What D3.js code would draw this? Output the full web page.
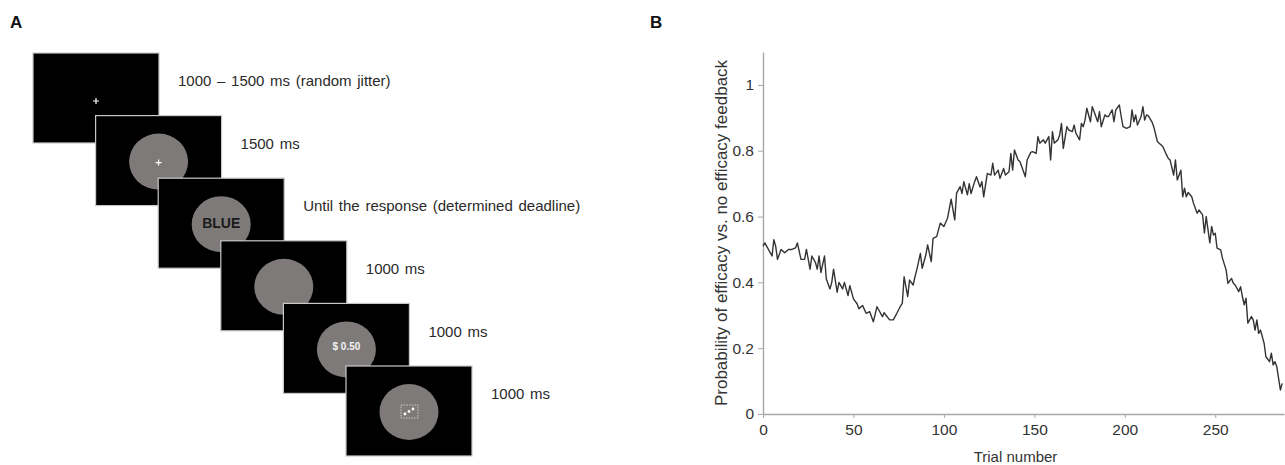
<!DOCTYPE html>
<html>
<head>
<meta charset="utf-8">
<script src="https://cdn.jsdelivr.net/npm/d3@7"></script>
<style>
  html, body { margin: 0; padding: 0; background: #fff; }
  svg { display: block; font-family: "Liberation Sans", Arial, sans-serif; }
</style>
</head>
<body>
<svg id="chart" width="1285" height="465"></svg>
<script>
// ---------------- Panel A: trial sequence ----------------
const stepLabels = [
  "1000 \u2013 1500 ms (random jitter)",
  "1500 ms",
  "Until the response (determined deadline)",
  "1000 ms",
  "1000 ms",
  "1000 ms"
];
const stepContent = ["fixation", "circleFixation", "word", "circle", "reward", "efficacy"];
const stimulusWord = "BLUE";
const rewardText = "$ 0.50";

// ---------------- Panel B: efficacy probability ----------------
const trials = [
  0,1,3,5,6,7,8,10,12,14,16,18,19,21,23,24,26,27,29,30,31,32,34,35,37,38,39,41,42,44,45,47,48,50,52,53,55,
  57,59,61,63,64,66,67,68,70,72,74,76,77,78,80,81,83,84,85,87,88,90,91,93,94,96,98,100,102,104,106,107,109,
  110,111,113,114,115,117,118,120,121,122,124,126,127,128,130,131,133,134,136,137,138,139,141,142,143,145,146,148,149,151,152,153,155,156,158,159,160,161,163,164,165,
  166,168,169,171,172,173,175,176,177,178,179,181,182,183,185,186,187,189,190,191,193,194,195,197,198,199,201,203,204,205,206,207,209,210,211,212,213,215,216,
  218,219,221,223,224,225,227,228,229,231,232,233,234,235,237,238,240,241,243,244,245,247,248,249,250,
  251,253,254,256,257,259,260,261,263,264,265,266,267,268,270,271,272,273,274,275,277,278,280,281,282,283,284,286,287
];
const probability = [
  0.51,0.52,0.50,0.48,0.53,0.51,0.47,0.50,0.49,0.50,0.50,0.505,0.52,0.47,0.47,0.50,0.44,0.48,0.46,0.44,0.48,0.43,0.48,0.41,0.38,0.40,0.44,0.37,0.40,0.38,0.40,0.36,0.39,0.35,0.335,0.32,0.33,
  0.306,0.311,0.28,0.326,0.316,0.296,0.308,0.30,0.286,0.286,0.306,0.328,0.336,0.417,0.357,0.407,0.392,0.417,0.438,0.488,0.443,0.483,0.514,0.463,0.534,0.539,0.58,0.57,0.595,0.653,0.59,0.671,0.691,
  0.67,0.706,0.666,0.70,0.67,0.706,0.721,0.69,0.706,0.66,0.731,0.726,0.762,0.726,0.741,0.716,0.746,0.726,0.736,0.792,0.741,0.802,0.772,0.767,0.752,0.721,0.772,0.795,0.797,0.792,0.843,0.823,0.833,0.823,0.843,0.772,0.858,0.823,0.833,0.848,0.883,
  0.807,0.873,0.863,0.858,0.878,0.853,0.833,0.883,0.873,0.893,0.929,0.888,0.934,0.919,0.888,0.919,0.873,0.909,0.904,0.904,0.924,0.888,0.924,0.939,0.904,0.873,0.868,0.873,0.924,0.888,0.909,0.878,0.904,0.934,0.893,0.909,0.906,0.888,0.873,
  0.828,0.823,0.813,0.788,0.777,0.772,0.726,0.772,0.711,0.741,0.66,0.686,0.66,0.673,0.66,0.64,0.61,0.62,0.605,0.55,0.60,0.52,0.57,0.544,0.549,
  0.504,0.499,0.473,0.438,0.397,0.412,0.397,0.392,0.372,0.387,0.357,0.332,0.352,0.276,0.296,0.286,0.255,0.286,0.245,0.255,0.215,0.174,0.159,0.185,0.149,0.159,0.144,0.073,0.093
];
const xTicks = [0, 50, 100, 150, 200, 250];
const yTicks = [0, 0.2, 0.4, 0.6, 0.8, 1];
const xLabel = "Trial number";
const yLabel = "Probability of efficacy vs. no efficacy feedback";

const svg = d3.select("#chart");

// ---------- Panel labels ----------
svg.append("text").attr("x", 10).attr("y", 28).attr("font-size", 17).attr("font-weight", "bold")
  .attr("fill", "#111").text("A");
svg.append("text").attr("x", 650).attr("y", 28).attr("font-size", 17).attr("font-weight", "bold")
  .attr("fill", "#111").text("B");

// ---------- Panel A ----------
const screenW = 126, screenH = 90;
const sx = d3.scaleLinear().domain([0, stepLabels.length - 1]).range([33, 346]);
const sy = d3.scaleLinear().domain([0, stepLabels.length - 1]).range([53, 366]);
const gA = svg.append("g");
const grayFill = "#7e7a79";

stepLabels.forEach((label, i) => {
  const x0 = sx(i), y0 = sy(i);
  const cx = x0 + screenW / 2, cy = y0 + screenH / 2;
  const g = gA.append("g");
  g.append("rect").attr("x", x0).attr("y", y0).attr("width", screenW).attr("height", screenH)
    .attr("fill", "#000").attr("stroke", "#c8c8c8").attr("stroke-width", 1.2);
  const kind = stepContent[i];
  if (kind !== "fixation") {
    g.append("ellipse").attr("cx", cx).attr("cy", cy + 1).attr("rx", 29.5).attr("ry", 28)
      .attr("fill", grayFill);
  }
  if (kind === "fixation" || kind === "circleFixation") {
    const fy = kind === "fixation" ? cy + 3 : cy + 2;
    g.append("path").attr("d", `M${cx - 3},${fy}H${cx + 3}M${cx},${fy - 3}V${fy + 3}`)
      .attr("stroke", "#fff").attr("stroke-width", 1.2);
  }
  if (kind === "word") {
    g.append("text").attr("x", cx).attr("y", cy).attr("dy", "0.36em").attr("text-anchor", "middle")
      .attr("font-size", 14).attr("font-weight", "bold").attr("fill", "#1a1a1a").text(stimulusWord);
  }
  if (kind === "reward") {
    g.append("text").attr("x", cx).attr("y", cy - 2).attr("dy", "0.36em").attr("text-anchor", "middle")
      .attr("font-size", 10).attr("font-weight", "bold").attr("fill", "#f2f2f2").text(rewardText);
  }
  if (kind === "efficacy") {
    g.append("rect").attr("x", cx - 8).attr("y", cy - 6).attr("width", 17).attr("height", 13)
      .attr("fill", "none").attr("stroke", "#e0e0e0").attr("stroke-width", 0.8)
      .attr("stroke-dasharray", "1.5,1.2");
    [[-4, 3], [0, 0.5], [4, -2]].forEach(([dx, dy]) => {
      g.append("circle").attr("cx", cx + dx).attr("cy", cy + dy).attr("r", 1.4).attr("fill", "#fff");
    });
  }
  gA.append("text").attr("x", x0 + screenW + 19).attr("y", y0 + 28).attr("dy", "0.35em")
    .attr("font-size", 15).attr("fill", "#2a2a2a").attr("word-spacing", 1.5).text(label);
});

// ---------- Panel B ----------
const x = d3.scaleLinear().domain([0, 288]).range([763, 1284]);
const y = d3.scaleLinear().domain([0, 1.1]).range([414, 52]);
const axisColor = "#a8a8a8";

const gx = svg.append("g").attr("transform", `translate(0,${y(0)})`)
  .call(d3.axisBottom(x).tickValues(xTicks).tickSizeInner(4).tickSizeOuter(0).tickPadding(6)
        .tickFormat(d3.format("d")));
const gy = svg.append("g").attr("transform", `translate(${x(0)},0)`)
  .call(d3.axisLeft(y).tickValues(yTicks).tickSizeInner(5).tickSizeOuter(0).tickPadding(4)
        .tickFormat(d3.format("~g")));
[gx, gy].forEach(g => {
  g.select(".domain").attr("stroke", axisColor).attr("stroke-width", 1.4);
  g.selectAll(".tick line").attr("stroke", axisColor).attr("stroke-width", 1);
  g.selectAll(".tick text").attr("fill", "#333").attr("font-size", 15.5)
    .attr("font-family", "'Liberation Sans', Arial, sans-serif");
});

const line = d3.line().x((d, i) => x(trials[i])).y(d => y(d));
svg.append("path").datum(probability).attr("d", line)
  .attr("fill", "none").attr("stroke", "#333").attr("stroke-width", 1.4)
  .attr("stroke-linejoin", "round");

svg.append("text").attr("x", (x(0) + x(288)) / 2 - 8).attr("y", 457).attr("dy", "0.35em")
  .attr("text-anchor", "middle").attr("font-size", 15).attr("fill", "#333").text(xLabel);
svg.append("text").attr("transform", `translate(721,${(y(0) + y(1.1)) / 2})rotate(-90)`)
  .attr("dy", "0.35em").attr("text-anchor", "middle").attr("font-size", 17).attr("fill", "#333")
  .text(yLabel);
</script>
</body>
</html>
